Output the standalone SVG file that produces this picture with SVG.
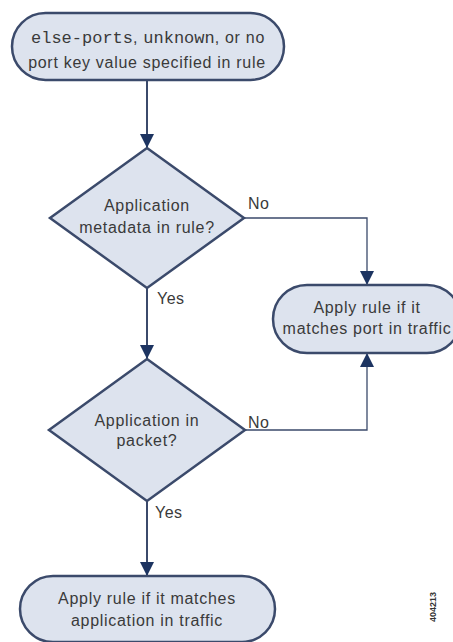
<svg xmlns="http://www.w3.org/2000/svg" width="453" height="642" viewBox="0 0 453 642">
<defs>
<marker id="arr" viewBox="0 0 10 10" refX="10" refY="5" markerWidth="14" markerHeight="14" markerUnits="userSpaceOnUse" orient="auto">
<path d="M0,0 L10,5 L0,10 Z" fill="#1d3461"/>
</marker>
<style>
.shape{fill:#dde3ee;stroke:#3b4a6b;stroke-width:2.5}
.t{font-family:"Liberation Sans",Arial,sans-serif;font-size:16px;fill:#3a3a3a;text-anchor:middle;letter-spacing:0.7px}
.m{font-family:"Liberation Mono","Courier New",monospace;font-size:17px;letter-spacing:0}
.lbl{font-family:"Liberation Sans",Arial,sans-serif;font-size:16px;fill:#3a3a3a;letter-spacing:0.5px}
.c{fill:none;stroke:#3b4a6b;stroke-width:2}
.c2{fill:none;stroke:#3b4a6b;stroke-width:1.3}
</style>
</defs>
<rect width="453" height="642" fill="#fff"/>
<g id="connectors">
<line class="c" x1="147" y1="80" x2="147" y2="148" marker-end="url(#arr)"/>
<polyline class="c2" points="244,218 367,218 367,285" marker-end="url(#arr)"/>
<line class="c" x1="147" y1="288" x2="147" y2="359" marker-end="url(#arr)"/>
<polyline class="c2" points="245,430 367,430 367,353" marker-end="url(#arr)"/>
<line class="c" x1="147" y1="501" x2="147" y2="576" marker-end="url(#arr)"/>
<text class="lbl" x="248" y="209">No</text>
<text class="lbl" x="157" y="304">Yes</text>
<text class="lbl" x="248" y="428">No</text>
<text class="lbl" x="155" y="518">Yes</text>
</g>
<g id="start">
<rect class="shape" x="12" y="13" width="272" height="67" rx="33.5"/>
<text class="t" x="148" y="43"><tspan class="m">else-ports</tspan>, <tspan class="m">unknown</tspan>, or no</text>
<text class="t" x="147" y="68">port key value specified in rule</text>
</g>
<g id="d1">
<polygon class="shape" points="147,148 244,218 147,288 50,218"/>
<text class="t" x="147" y="211">Application</text>
<text class="t" x="147" y="233">metadata in rule?</text>
</g>
<g id="port">
<rect class="shape" x="273" y="285" width="188" height="68" rx="34"/>
<text class="t" x="367" y="313">Apply rule if it</text>
<text class="t" x="367" y="334">matches port in traffic</text>
</g>
<g id="d2">
<polygon class="shape" points="147,359 245,430 147,501 49,430"/>
<text class="t" x="147" y="426">Application in</text>
<text class="t" x="147" y="446">packet?</text>
</g>
<g id="app">
<rect class="shape" x="20" y="576" width="255" height="66" rx="33"/>
<text class="t" x="147" y="604">Apply rule if it matches</text>
<text class="t" x="147" y="626">application in traffic</text>
</g>
<text x="436" y="607" transform="rotate(-90 436 607)" font-family="'Liberation Sans',Arial,sans-serif" font-size="9" font-weight="bold" fill="#333" text-anchor="middle">404213</text>
</svg>
